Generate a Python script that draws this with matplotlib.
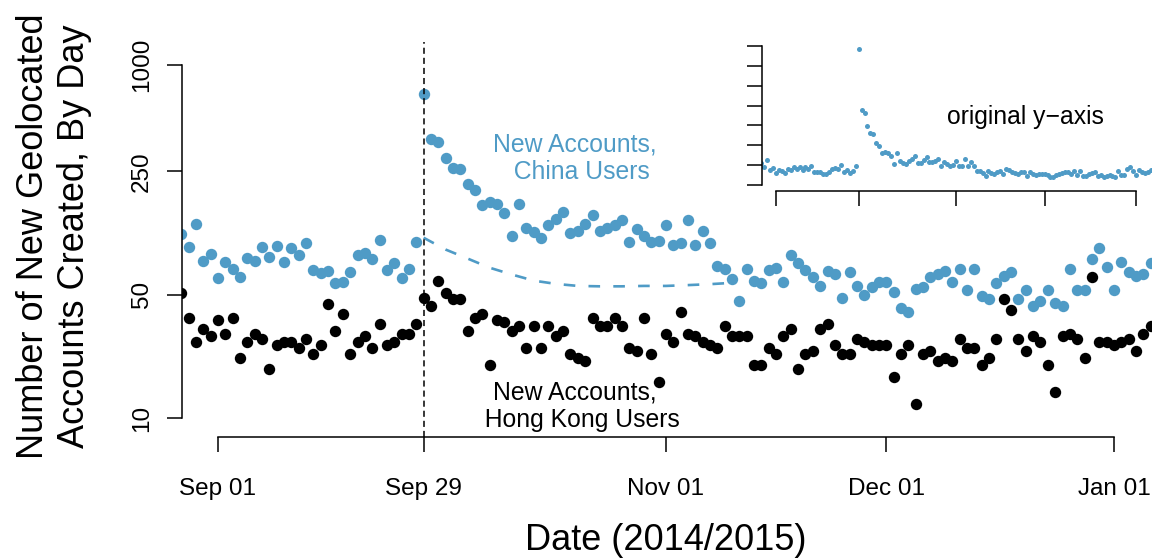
import matplotlib
matplotlib.use("Agg")
import matplotlib.pyplot as plt
import matplotlib.dates as mdates
import matplotlib.ticker as mticker
import pandas as pd

plt.rcParams["font.family"] = ["Liberation Sans", "DejaVu Sans"]

########################################################
# data (one value per day)

dates = pd.date_range("2014-08-27", "2015-01-06", freq="D")

china = [
    110, 93, 125, 78, 85,
    62, 77, 70, 63, 81, 78, 93, 82, 94, 77,
    92, 84, 98, 69, 66, 68, 58, 59, 67, 84,
    86, 80, 102, 69, 76, 62, 70, 99, 685, 380,
    365, 296, 260, 256, 211, 195, 160, 168, 164, 145,
    107, 164, 120, 113, 105, 124, 134, 147, 111, 114,
    126, 142, 115, 119, 124, 132, 99, 118, 107, 99,
    100, 124, 96, 98, 132, 95, 115, 98, 73, 70,
    61, 46, 70, 60, 58, 69, 71, 59, 84, 76,
    69, 63, 56, 68, 65, 48, 67, 56, 50, 55,
    59, 59, 52, 42, 40, 54, 55, 63, 65, 68,
    59, 70, 53, 70, 49, 47, 58, 64, 67, 47,
    53, 43, 46, 53, 45, 43, 70, 53, 53, 80,
    92, 72, 53, 77, 67, 64, 65, 76,
]

hong_kong = [
    51, 37, 27, 32, 29,
    36, 30, 37, 22, 27, 30, 28, 19, 26, 27,
    27, 25, 28, 23, 26, 44, 31, 39, 23, 27,
    29, 25, 34, 26, 27, 30, 30, 34, 48, 43,
    60, 51, 47, 47, 31, 37, 39, 20, 36, 35,
    31, 33, 25, 33, 25, 33, 29, 31, 23, 22,
    21, 37, 33, 33, 37, 33, 25, 24, 37, 23,
    16, 30, 27, 40, 30, 29, 27, 26, 25, 33,
    29, 29, 29, 20, 20, 25, 23, 29, 32, 19,
    23, 24, 32, 34, 26, 23, 23, 28, 27, 26,
    26, 26, 17, 23, 26, 12, 23, 24, 21, 22,
    21, 28, 25, 25, 20, 22, 28, 47, 41, 28,
    24, 29, 27, 20, 14, 29, 30, 28, 22, 63,
    27, 27, 26, 27, 28, 24, 30, 33,
]

# dashed baseline curve for China users
curve_dates = pd.to_datetime([
    "2014-09-29", "2014-10-02", "2014-10-05", "2014-10-08", "2014-10-11",
    "2014-10-14", "2014-10-17", "2014-10-20", "2014-10-23", "2014-10-26",
    "2014-10-29", "2014-11-01", "2014-11-04", "2014-11-07", "2014-11-10",
])
curve_values = [105, 90, 80, 71, 65, 60, 57.5, 56, 55.7, 55.7, 56, 56, 56.6, 57.3, 58.3]

event_date = pd.Timestamp("2014-09-29")
tick_dates = pd.to_datetime(["2014-09-01", "2014-09-29", "2014-11-01", "2014-12-01", "2015-01-01"])
tick_labels = ["Sep 01", "Sep 29", "Nov 01", "Dec 01", "Jan 01"]
y_ticks = [10, 50, 250, 1000]
inset_y_ticks = [0, 100, 200, 300, 400, 500, 600, 700]

########################################################

BLUE = "#4f9bc6"
W, H = 1155, 560

fig = plt.figure(figsize=(W / 100, H / 100), dpi=100)


def px_axes(left, top, right, bottom):
    return fig.add_axes([left / W, 1 - bottom / H, (right - left) / W, (bottom - top) / H])


sep1 = mdates.date2num(tick_dates[0])
jan1 = mdates.date2num(tick_dates[-1])
xlim = (sep1 - 4.9, sep1 + 127.05)

##########################
# main panel

ax = px_axes(182, 42, 1151, 437)
ax.set_yscale("log")
ax.plot(dates, china, "o", color=BLUE, ms=8.2, mew=0)
ax.plot(dates, hong_kong, "o", color="black", ms=8.2, mew=0)
ax.plot(curve_dates, curve_values, color=BLUE, lw=1.9, linestyle=(0, (4.4, 5.0)))
ax.axvline(event_date, color="black", lw=1.1, linestyle=(0, (4.0, 2.6)))

ax.set_xlim(*xlim)
ax.set_ylim(7.8, 1350)

for side in ["top", "right"]:
    ax.spines[side].set_visible(False)
ax.spines["left"].set_bounds(10, 1000)
ax.spines["bottom"].set_bounds(sep1, jan1)
for side in ["left", "bottom"]:
    ax.spines[side].set_linewidth(1.1)

ax.set_yticks(y_ticks)
ax.yaxis.set_minor_locator(mticker.NullLocator())
ax.set_yticklabels([str(v) for v in y_ticks], rotation=90, va="center")
ax.set_xticks(tick_dates)
ax.set_xticklabels(tick_labels)
ax.tick_params(axis="both", direction="out", length=10.8, width=1.1, labelsize=17.5)
ax.tick_params(axis="y", pad=10)
ax.tick_params(axis="x", pad=18.5)

ax.text(0.4056, 0.706, "New Accounts,\n  China Users", transform=ax.transAxes,
        ha="center", va="center", multialignment="center", color=BLUE, fontsize=17.8, linespacing=1.2)
ax.text(0.4056, 0.0785, "New Accounts,\n  Hong Kong Users", transform=ax.transAxes,
        ha="center", va="center", multialignment="center", color="black", fontsize=17.8, linespacing=1.2)

fig.text(54 / W, 1 - 236 / H, "Number of New Geolocated\nAccounts Created, By Day", rotation=90,
         ha="center", va="center", multialignment="center", fontsize=26, linespacing=1.2)
fig.text(666 / W, 1 - 541 / H, "Date (2014/2015)", ha="center", va="center", fontsize=26)

##########################
# inset on the original (linear) y-axis

ins = px_axes(761.5, 40, 1151, 191)
ins.patch.set_alpha(0)
ins.plot(dates, china, "o", color=BLUE, ms=3.6, mew=0)
ins.set_xlim(*xlim)
ins.set_ylim(-28.6, 728.6)
for side in ["top", "right"]:
    ins.spines[side].set_visible(False)
ins.spines["left"].set_bounds(0, 700)
ins.spines["bottom"].set_bounds(sep1, jan1)
for side in ["left", "bottom"]:
    ins.spines[side].set_linewidth(1.1)
ins.set_yticks(inset_y_ticks)
ins.set_xticks(tick_dates)
ins.tick_params(axis="both", direction="out", length=10.8, width=1.1, labelleft=False, labelbottom=False)
fig.text(1025 / W, 1 - 117 / H, "original y\u2212axis", ha="center", va="center", fontsize=17.8)

fig.savefig("out.png", dpi=100)
